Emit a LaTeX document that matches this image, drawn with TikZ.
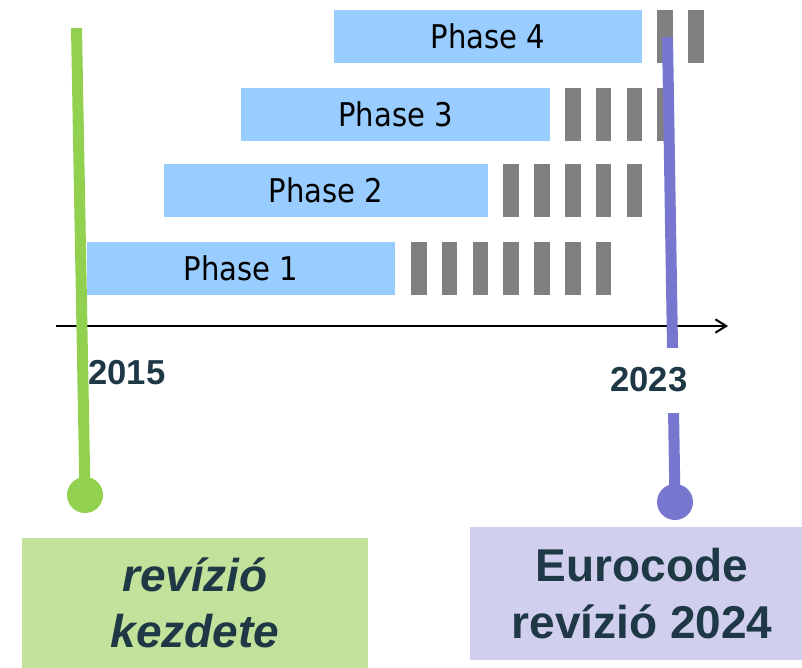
\documentclass[tikz,border=0pt]{standalone}
\usepackage{fontspec}
\setmainfont{Liberation Sans}
\newfontfamily\phasefont{DejaVu Sans}[FakeStretch=0.89]
\usetikzlibrary{arrows.meta}
\definecolor{barblue}{HTML}{99CCFF}
\definecolor{bargray}{HTML}{808080}
\definecolor{revgreen}{HTML}{92D050}
\definecolor{boxgreen}{HTML}{C2E29B}
\definecolor{revpurple}{HTML}{7777D0}
\definecolor{boxpurple}{HTML}{D0D0EE}
\definecolor{slate}{HTML}{1F3845}
\begin{document}
\begin{tikzpicture}[x=0.75pt,y=-0.75pt,
  phasebar/.style={fill=barblue, inner sep=0, minimum height=53*0.75pt,
    font=\phasefont\fontsize{24.5}{28}\selectfont, text=black},
  graybar/.style={fill=bargray, inner sep=0, minimum width=15.5*0.75pt, minimum height=53*0.75pt},
  axisline/.style={line width=1.5pt, black, -{Straight Barb[length=8pt,width=10pt,line width=1.5pt]}},
  yearlabel/.style={font=\bfseries\fontsize{26}{30}\selectfont, text=slate, inner sep=0},
  revline/.style={line width=11*0.75pt},
  revdot/.style={circle, inner sep=0, minimum size=36*0.75pt},
  revbox/.style={inner sep=0, align=center, text=slate,
    font=\bfseries\fontsize{34.5}{42.5}\selectfont}
]
\useasboundingbox (0,0) rectangle (802,667);

% phase bars
\node[phasebar, minimum width=308*0.75pt] (p1) at (241,268.5) {Phase 1};
\node[phasebar, minimum width=324*0.75pt] (p2) at (326,190.5) {Phase 2};
\node[phasebar, minimum width=309*0.75pt] (p3) at (395.5,114.5) {Phase 3};
\node[phasebar, minimum width=308*0.75pt] (p4) at (488,36.5) {Phase 4};

% gray continuation bars
\foreach \r/\y/\a/\b in {1/268.5/0/6, 2/190.5/3/7, 3/114.5/5/8, 4/36.5/8/9}
  \foreach \i in {\a,...,\b}
    \node[graybar] (g\r-\i) at ({418.75+\i*30.8},\y) {};

% time axis
\coordinate (ax0) at (56,326);
\coordinate (ax1) at (728,326);
\draw[axisline] (ax0) -- (ax1);

% 2015 label and green line
\node[yearlabel, anchor=base west] (y2015) at (88,384) {2015};
\node[revdot, fill=revgreen] (gdot) at (85,495) {};
\coordinate (gtop) at (76.5,28);
\draw[revline, revgreen] (gtop) -- (gdot.center);

% purple line and 2023 label
\node[revdot, fill=revpurple] (pdot) at (675,502) {};
\coordinate (ptop) at (667.5,37);
\draw[revline, revpurple] (ptop) -- (pdot.center);
\node[yearlabel, fill=white, minimum height=65*0.75pt, inner xsep=4pt] (y2023) at (649,380) {2023};

% boxes
\node[revbox, fill=boxgreen, minimum width=346*0.75pt, minimum height=130*0.75pt]
  (gbox) at (195,603) {\itshape revízió\\\itshape kezdete};
\node[revbox, fill=boxpurple, minimum width=332*0.75pt, minimum height=133*0.75pt]
  (pbox) at (636,593.5) {\hspace*{9pt}Eurocode\\\hspace*{9pt}revízió 2024};
\end{tikzpicture}
\end{document}
